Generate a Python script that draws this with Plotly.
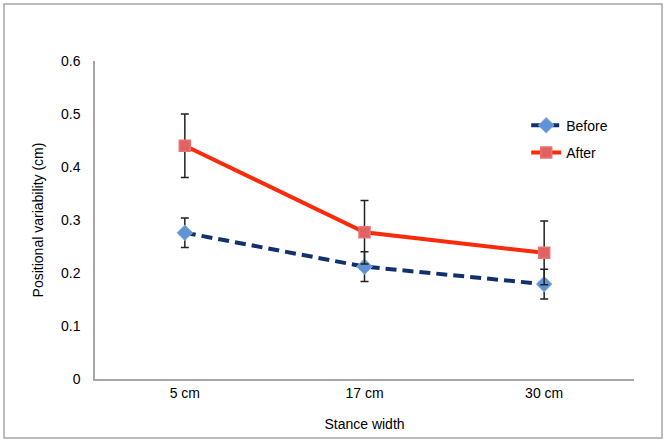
import plotly.graph_objects as go

categories = ["5 cm", "17 cm", "30 cm"]
before = [0.276, 0.212, 0.179]
before_err = [0.028, 0.028, 0.028]
after = [0.44, 0.277, 0.238]
after_err = [0.06, 0.06, 0.06]
y_ticks = [0, 0.1, 0.2, 0.3, 0.4, 0.5, 0.6]
y_tick_labels = ["0", "0.1", "0.2", "0.3", "0.4", "0.5", "0.6"]

fig = go.Figure()
fig.add_trace(go.Scatter(
    x=categories, y=before, name="Before", mode="lines+markers", legendgroup="b",
    line=dict(color="#10306e", width=4, dash="11px,6px"),
    marker=dict(symbol="diamond", size=12, color="#5f93d3",
                line=dict(color="#8ab0e0", width=1)),
    error_y=dict(type="data", array=before_err, color="#222222", thickness=1.5, width=4),
))
fig.add_trace(go.Scatter(
    x=categories, y=after, name="After", mode="lines+markers", legendgroup="a",
    line=dict(color="#fa2a0a", width=4),
    marker=dict(symbol="square", size=11, color="#e06262",
                line=dict(color="#f07070", width=1.5)),
    error_y=dict(type="data", array=after_err, color="#222222", thickness=1.5, width=4),
))

fig.update_layout(
    width=666, height=443,
    margin=dict(l=95, r=32, t=61, b=64),
    paper_bgcolor="white", plot_bgcolor="white",
    font=dict(family="Liberation Sans, Arial, sans-serif", size=14, color="#000000"),
    showlegend=True,
    legend=dict(x=0.80, y=0.847, xanchor="left", yanchor="top",
                bgcolor="rgba(0,0,0,0)", font=dict(size=14),
                tracegroupgap=6),
    xaxis=dict(range=[-0.5, 2.5], showline=True, linecolor="#a6a6a6", linewidth=1.5,
               showgrid=False, ticks="", zeroline=False, automargin=False,
               title=dict(text="Stance width", font=dict(size=14), standoff=20)),
    yaxis=dict(range=[0, 0.6], showline=True, linecolor="#a6a6a6", linewidth=1.5,
               showgrid=False, ticks="", zeroline=False, automargin=False,
               tickvals=y_ticks, ticktext=y_tick_labels, ticklabelstandoff=10,
               title=dict(text="Positional variability (cm)", font=dict(size=14), standoff=14)),
    shapes=[dict(type="rect", xref="paper", yref="paper",
                 x0=-0.1688, x1=1.052, y0=-0.1855, y1=1.179,
                 line=dict(color="#a6a6a6", width=1.5), layer="below")],
)

fig.write_html("out.html", config={"displayModeBar": False},
               post_script="document.body.style.margin='0';document.body.style.padding='0';")
